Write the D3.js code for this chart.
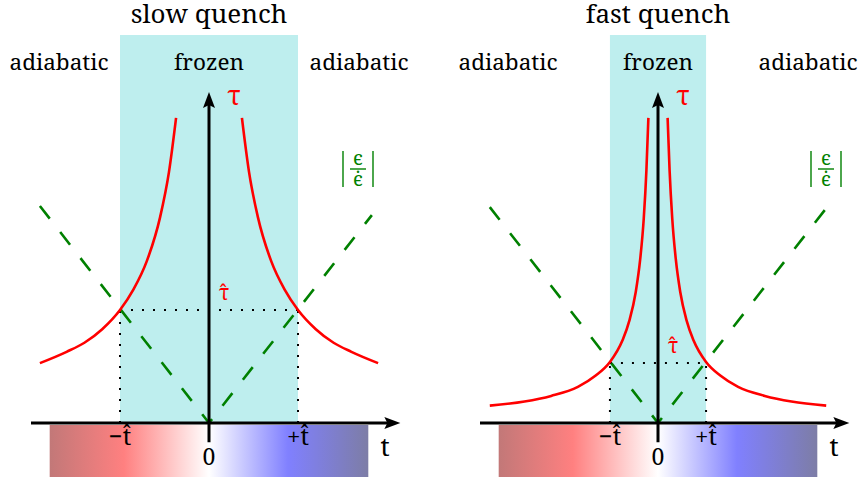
<!DOCTYPE html>
<html>
<head>
<meta charset="utf-8">
<script src="https://cdn.jsdelivr.net/npm/d3@7"></script>
<style>
  body { margin: 0; background: #fff; }
</style>
</head>
<body>
<div id="chart"></div>
<script>
// values (t in units of the slow t-hat, tau in the same units)
const panelTitles = ["slow quench", "fast quench"];
const regionLabels = ["adiabatic", "frozen", "adiabatic"];
const tHat = [1.0, 0.54];
const tauHat = [1.0, 0.53];
const tickLabels = ["\u2212t\u0302", "0", "+t\u0302"];
// tau branch for t > 0 (mirrored for t < 0)
const tauSlowT = [0.37, 0.45, 0.55, 0.7, 0.85, 1.0, 1.2, 1.4, 1.6, 1.9];
const tauSlowV = [2.7, 2.22, 1.82, 1.43, 1.18, 1.0, 0.83, 0.71, 0.63, 0.53];
const tauFastT = [0.108, 0.13, 0.16, 0.2, 0.25, 0.32, 0.4, 0.54, 0.7, 0.9, 1.2, 1.5, 1.89];
const tauFastV = [2.7, 2.24, 1.81, 1.45, 1.16, 0.91, 0.73, 0.54, 0.42, 0.32, 0.24, 0.19, 0.154];
// |eps / eps-dot| dashed line ends
const epsSlow = [[-1.9, 1.92], [0, 0], [1.83, 1.84]];
const epsFast = [[-1.89, 1.91], [0, 0], [1.89, 1.9]];

const tauT = [tauSlowT, tauFastT];
const tauV = [tauSlowV, tauFastV];
const epsLines = [epsSlow, epsFast];

const width = 863, height = 481;
const origins = [209, 658];
const axisY = 423;
const serif = "'Noto Serif', 'Liberation Serif', serif";

const svg = d3.select("#chart").append("svg")
    .attr("width", width)
    .attr("height", height);

const defs = svg.append("defs");
const grad = defs.append("linearGradient").attr("id", "tgrad");
[[0, "#c27878"], [0.233, "#ff8080"], [0.5, "#ffffff"], [0.748, "#8080ff"], [1, "#7d7da6"]]
    .forEach(s => grad.append("stop").attr("offset", s[0]).attr("stop-color", s[1]));

const xScale = d3.scaleLinear().domain([-2, 2]).range([-178, 178]);
const yScale = d3.scaleLinear().domain([0, 3]).range([0, -339]);

const line = d3.line()
    .x(d => xScale(d[0]))
    .y(d => yScale(d[1]));
const smooth = d3.line()
    .x(d => xScale(d[0]))
    .y(d => yScale(d[1]))
    .curve(d3.curveMonotoneX);

function label(sel, x, y, txt, size, color) {
    return sel.append("text")
        .attr("x", x)
        .attr("y", y)
        .attr("text-anchor", "middle")
        .style("font-family", serif)
        .style("font-size", size + "px")
        .style("fill", color || "#000")
        .text(txt);
}

panelTitles.forEach((title, i) => {
    const g = svg.append("g")
        .attr("transform", `translate(${origins[i]}, ${axisY})`);
    const th = tHat[i];

    // frozen zone
    g.append("rect")
        .attr("x", xScale(-th))
        .attr("y", 35 - axisY)
        .attr("width", xScale(th) - xScale(-th))
        .attr("height", axisY - 35)
        .style("fill", "#beeeee");

    // time colour bar
    g.append("rect")
        .attr("x", xScale(-1.79))
        .attr("y", 2)
        .attr("width", xScale(1.79) - xScale(-1.79))
        .attr("height", 52)
        .style("fill", "url(#tgrad)");

    label(svg, origins[i], 23, title, 26);
    regionLabels.forEach((lab, j) => {
        label(svg, origins[i] + (j - 1) * 150, 70, lab, 22.5);
    });

    // dotted guides
    const dotted = [
        [[-th, tauHat[i]], [th, tauHat[i]]],
        [[-th, 0], [-th, tauHat[i]]],
        [[th, 0], [th, tauHat[i]]]
    ];
    dotted.forEach(seg => {
        g.append("path")
            .attr("d", line(seg))
            .style("fill", "none")
            .style("stroke", "#000")
            .style("stroke-width", 2)
            .style("stroke-dasharray", "2,9");
    });

    // |eps/epsdot|
    g.append("path")
        .attr("d", line(epsLines[i]))
        .style("fill", "none")
        .style("stroke", "#008000")
        .style("stroke-width", 2.6)
        .style("stroke-dasharray", "16,17");

    // tau curves
    const right = tauT[i].map((t, k) => [t, tauV[i][k]]);
    const left = right.map(d => [-d[0], d[1]]).reverse();
    [left, right].forEach(pts => {
        g.append("path")
            .attr("d", smooth(pts))
            .style("fill", "none")
            .style("stroke", "#ff0000")
            .style("stroke-width", 2.6);
    });

    // axes
    const xTip = xScale(2.15);
    g.append("line")
        .attr("x1", xScale(-2)).attr("x2", xTip - 10)
        .attr("y1", 0).attr("y2", 0)
        .style("stroke", "#000").style("stroke-width", 3);
    g.append("path")
        .attr("d", `M${xTip},0 L${xTip - 16},-6 L${xTip - 13},0 L${xTip - 16},6 Z`)
        .style("fill", "#000");
    const yTip = yScale(2.93);
    g.append("line")
        .attr("x1", 0).attr("x2", 0)
        .attr("y1", yScale(-0.17)).attr("y2", yTip + 10)
        .style("stroke", "#000").style("stroke-width", 3);
    g.append("path")
        .attr("d", `M0,${yTip} L-6,${yTip + 16} L0,${yTip + 13} L6,${yTip + 16} Z`)
        .style("fill", "#000");

    // tick labels
    [-th, 0, th].forEach((t, k) => {
        label(g, xScale(t), k === 1 ? 42 : 22, tickLabels[k], k === 1 ? 23 : 24);
    });
    label(g, 176, 33, "t", 26);

    // tau labels
    label(g, 25, 105 - axisY, "\u03c4", 27, "#ff0000");
    label(g, 15, yScale(tauHat[i]) - 10, "\u03c4\u0302", 21, "#ff0000");

    // |eps / epsdot| label
    const ex = [149, 168][i];
    const ey = 169 - axisY;
    const lab = g.append("g").attr("transform", `translate(${ex}, ${ey})`);
    [-15, 15].forEach(dx => {
        lab.append("line")
            .attr("x1", dx).attr("x2", dx)
            .attr("y1", -18).attr("y2", 18)
            .style("stroke", "#008000").style("stroke-width", 1.4);
    });
    lab.append("line")
        .attr("x1", -8).attr("x2", 8)
        .attr("y1", 0).attr("y2", 0)
        .style("stroke", "#008000").style("stroke-width", 1.4);
    label(lab, 0, -4, "\u03f5", 20, "#008000");
    label(lab, 0, 17, "\u03f5\u0307", 20, "#008000");
});
</script>
</body>
</html>
